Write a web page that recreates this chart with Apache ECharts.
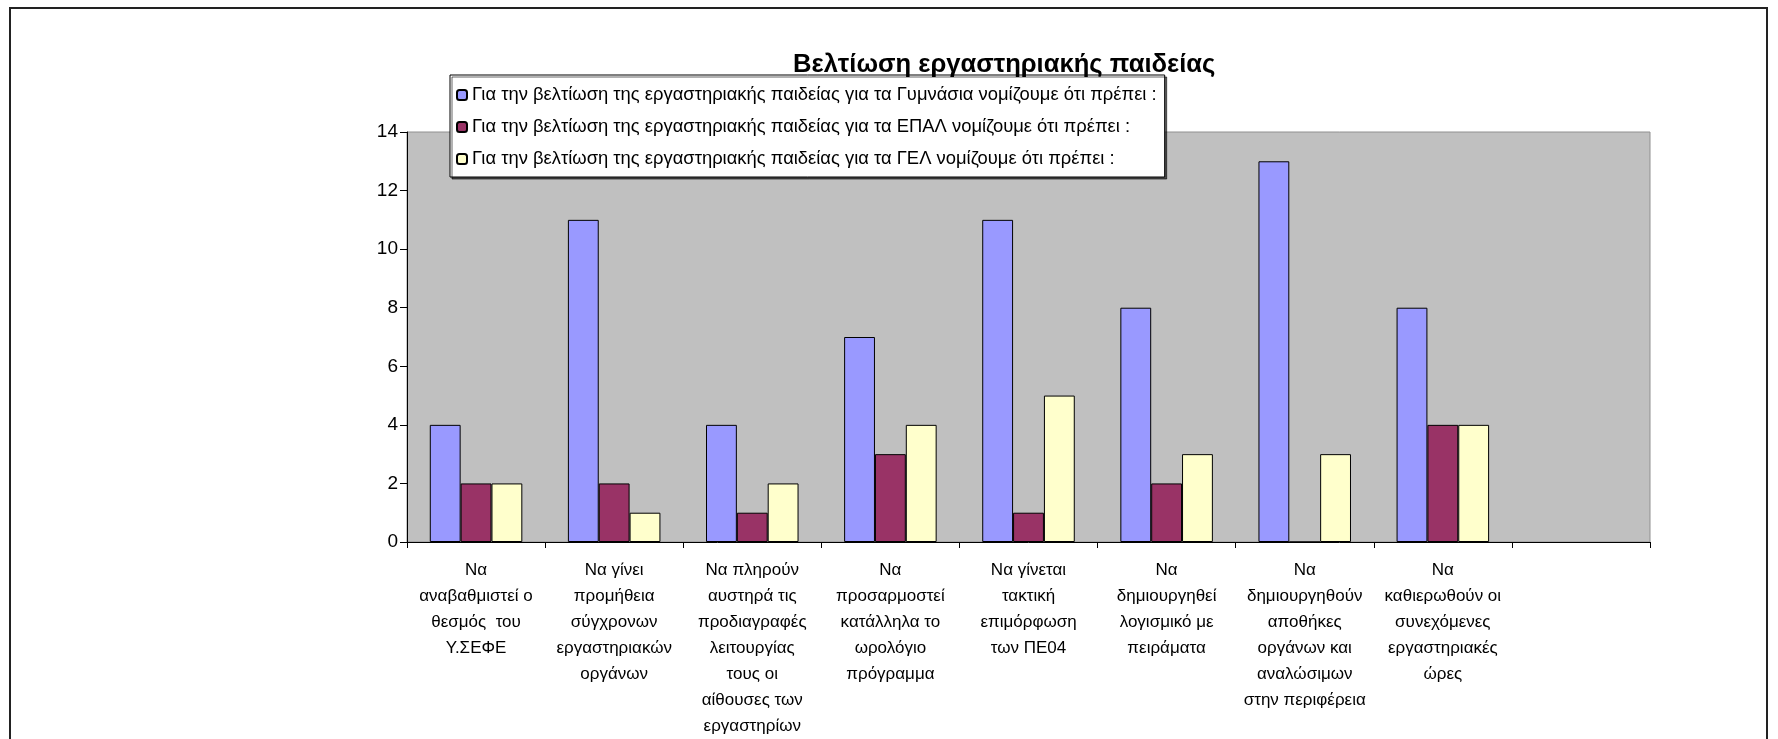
<!DOCTYPE html>
<html>
<head>
<meta charset="utf-8">
<script src="https://cdn.jsdelivr.net/npm/echarts@6/dist/echarts.min.js"></script>
<style>
  html, body { margin: 0; padding: 0; background: #fff; }
  #chart { width: 1778px; height: 739px; }
</style>
</head>
<body>
<div id="chart"></div>
<script>
// categories (last one is an empty slot, as in the original sheet)
const categories = [
  "Να\nαναβαθμιστεί ο\nθεσμός  του\nΥ.ΣΕΦΕ",
  "Να γίνει\nπρομήθεια\nσύγχρονων\nεργαστηριακών\nοργάνων",
  "Να πληρούν\nαυστηρά τις\nπροδιαγραφές\nλειτουργίας\nτους οι\nαίθουσες των\nεργαστηρίων",
  "Να\nπροσαρμοστεί\nκατάλληλα το\nωρολόγιο\nπρόγραμμα",
  "Να γίνεται\nτακτική\nεπιμόρφωση\nτων ΠΕ04",
  "Να\nδημιουργηθεί\nλογισμικό με\nπειράματα",
  "Να\nδημιουργηθούν\nαποθήκες\nοργάνων και\nαναλώσιμων\nστην περιφέρεια",
  "Να\nκαθιερωθούν οι\nσυνεχόμενες\nεργαστηριακές\nώρες",
  ""
];

const seriesNames = [
  "Για την βελτίωση της εργαστηριακής παιδείας για τα Γυμνάσια νομίζουμε ότι πρέπει :",
  "Για την βελτίωση της εργαστηριακής παιδείας για τα ΕΠΑΛ νομίζουμε ότι πρέπει :",
  "Για την βελτίωση της εργαστηριακής παιδείας για τα ΓΕΛ νομίζουμε ότι πρέπει :"
];

const gymnasia = [4, 11, 4, 7, 11, 8, 13, 8, null];
const epal     = [2, 2, 1, 3, 1, 2, 0, 4, null];
const gel      = [2, 1, 2, 4, 5, 3, 3, 4, null];

const colors = ["#9999FF", "#993366", "#FFFFCC"];

const font = "'Liberation Sans', Arial, sans-serif";

const chart = echarts.init(document.getElementById("chart"));

function bar(name, data, color) {
  return {
    name: name,
    type: "bar",
    data: data,
    barGap: "0%",
    barCategoryGap: "33%",
    itemStyle: { color: color, borderColor: "#000", borderWidth: 1 }
  };
}

chart.setOption({
  animation: false,
  textStyle: { fontFamily: font, color: "#000" },
  title: {
    text: "Βελτίωση εργαστηριακής παιδείας",
    left: 788,
    top: 47,
    textStyle: { fontFamily: font, fontSize: 25.6, fontWeight: "bold", color: "#000" }
  },
  legend: {
    orient: "vertical",
    left: 450,
    top: 75,
    padding: [9, 8, 7, 6],
    itemGap: 10,
    itemWidth: 10,
    itemHeight: 10,
    backgroundColor: "#fff",
    borderColor: "#000",
    borderWidth: 1,
    shadowColor: "rgba(0,0,0,0.6)",
    shadowOffsetX: 2,
    shadowOffsetY: 2,
    textStyle: { fontFamily: font, fontSize: 18.4, color: "#000", lineHeight: 22 },
    data: seriesNames
  },
  grid: {
    left: 407,
    right: 128,
    top: 132,
    bottom: 197,
    show: true,
    backgroundColor: "#C0C0C0",
    borderColor: "#909090",
    borderWidth: 1
  },
  xAxis: {
    type: "category",
    data: categories,
    axisLine: { lineStyle: { color: "#000", width: 1 } },
    axisTick: { show: true, interval: 0, length: 6, lineStyle: { color: "#000" } },
    axisLabel: {
      interval: 0,
      margin: 15,
      fontFamily: font,
      fontSize: 17,
      lineHeight: 26,
      color: "#000",
      align: "center",
      verticalAlign: "top"
    }
  },
  yAxis: {
    type: "value",
    min: 0,
    max: 14,
    interval: 2,
    axisLine: { show: true, lineStyle: { color: "#000", width: 1 } },
    axisTick: { show: true, length: 7, lineStyle: { color: "#000" } },
    splitLine: { show: false },
    axisLabel: { fontFamily: font, fontSize: 19, color: "#000", margin: 9 }
  },
  graphic: [
    {
      type: "rect",
      shape: { x: 10, y: 8, width: 1757, height: 800 },
      style: { fill: null, stroke: "#222", lineWidth: 2 },
      silent: true
    }
  ],
  series: [
    bar(seriesNames[0], gymnasia, colors[0]),
    bar(seriesNames[1], epal, colors[1]),
    bar(seriesNames[2], gel, colors[2])
  ]
});
</script>
</body>
</html>
